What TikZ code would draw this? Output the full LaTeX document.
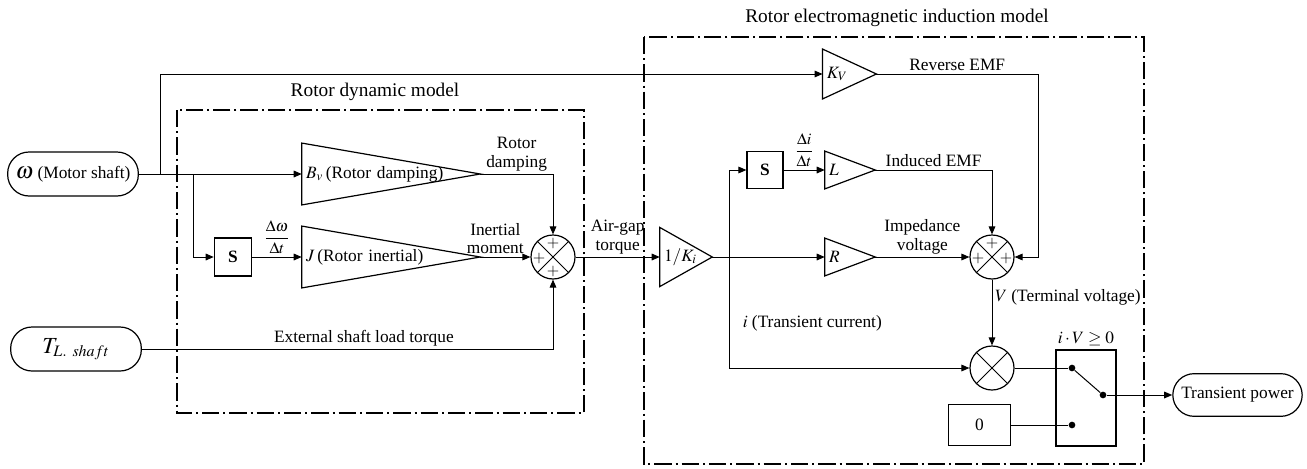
\documentclass[tikz,border=0pt]{standalone}
\usepackage{amsmath}
\usepackage{mathptmx}
\usepackage{fontspec}
\setmainfont{Liberation Serif}
\usetikzlibrary{arrows.meta}

% triangle drawn over a gain node
\newcommand{\gaintri}[1]{\draw[line width=0.9pt] (#1.north west) -- (#1.east) -- (#1.south west) -- cycle;}

\begin{document}
\begin{tikzpicture}[x=0.75pt, y=-0.75pt,
  font=\fontsize{13}{15}\selectfont,
  sig/.style={-{Triangle[length=6pt,width=5pt]}, line width=0.75pt},
  wire/.style={line width=0.75pt},
  frame/.style={line width=1.5pt, dash pattern=on 13pt off 3pt on 1.5pt off 3pt},
  port/.style={draw, line width=0.9pt, rounded corners=16pt, minimum width=98pt,
    minimum height=33pt, inner sep=0pt},
  blk/.style={draw, line width=0.9pt, inner sep=0pt, font=\fontsize{13}{15}\selectfont\bfseries},
  gain/.style={inner xsep=3pt, inner ysep=0pt, align=left, text width=#1},
  sumnode/.style={draw, circle, line width=0.9pt, minimum size=33pt, inner sep=0pt,
    path picture={\draw[line width=0.75pt]
      (path picture bounding box.north west) -- (path picture bounding box.south east)
      (path picture bounding box.north east) -- (path picture bounding box.south west);}},
  pl/.style={inner sep=0pt, font=\fontsize{12}{12}\selectfont},
  lbl/.style={align=center, inner sep=2pt, font=\fontsize{13}{14}\selectfont},
  ttl/.style={font=\fontsize{14.5}{16}\selectfont},
  dot/.style={circle, fill, inner sep=0pt, minimum size=5pt},
]
\useasboundingbox (0,0) rectangle (1307,468);

% frames
\draw[frame] (177,110) rectangle (584,413);
\draw[frame] (644,37) rectangle (1144,464);
\node[ttl] (t1) at (375,92) {Rotor dynamic model};
\node[ttl] (t2) at (897,18) {Rotor electromagnetic induction model};

% rotor dynamic model
\node[port] (om) at (73,174) {{\LARGE$\omega$} (Motor shaft)};
\node[port] (TL) at (76,349) {{\LARGE$T_{L.\ shaft}$}};
\coordinate (b1) at (160,174);
\coordinate (b2) at (193,174);
\node[blk, minimum width=28pt, minimum height=28.5pt] (S1) at (233,257) {S};
\node[gain=127.5pt, minimum height=46pt] (Bv) at (391,174) {$B_v$\,(Rotor damping)};
\node[gain=127.5pt, minimum height=46pt] (J) at (391,257) {$J$\,(Rotor inertial)};
\gaintri{Bv}
\gaintri{J}
\node[sumnode] (sum1) at (553,257) {};
\node[pl] (s1t) at ([yshift=10pt]sum1.center) {$+$};
\node[pl] (s1l) at ([xshift=-10.5pt,yshift=-1pt]sum1.center) {$+$};
\node[pl] (s1b) at ([yshift=-11pt]sum1.center) {$+$};

% electromagnetic induction model
\node[gain=34pt, minimum height=37pt] (Kv) at (849.5,74) {$K_V$};
\node[gain=33pt, minimum height=44pt] (Ki) at (686,257) {$1/K_i$};
\coordinate (b3) at (729,257);
\coordinate (re) at (1038,74);
\node[blk, minimum width=27pt, minimum height=28pt] (S2) at (765,170) {S};
\node[gain=31.5pt, minimum height=28pt] (L) at (850,170) {$L$};
\node[gain=31.5pt, minimum height=28pt] (R) at (850,257) {$R$};
\gaintri{Kv}
\gaintri{Ki}
\gaintri{L}
\gaintri{R}
\node[sumnode] (sum2) at (992,257) {};
\node[pl] (s2t) at ([yshift=10pt]sum2.center) {$+$};
\node[pl] (s2l) at ([xshift=-10.5pt,yshift=-1pt]sum2.center) {$+$};
\node[pl] (s2r) at ([xshift=10.5pt,yshift=-1pt]sum2.center) {$+$};
\node[sumnode] (mult) at (992,368) {};
\node[draw, line width=0.9pt, minimum width=46pt, minimum height=31pt] (zero) at (979.5,425) {0};
\node[draw, line width=1.2pt, minimum width=45pt, minimum height=72pt,
  label={[lbl]above:$i\cdot V\geq 0$}] (sw) at (1086,398) {};
\node[dot] (sw1) at (1072,368) {};
\node[dot] (sw2) at (1072,425) {};
\node[dot] (swo) at (1103,395) {};
\node[port, minimum width=97pt, minimum height=32pt] (tp) at (1237.5,395) {Transient power};

% signals
\draw[sig] (om.east) -- (Bv.west);
\draw[sig] (b1) |- (Kv.west);
\draw[sig] (b2) |- (S1.west);
\draw[sig] (S1.east) -- node[lbl, above] {\large$\dfrac{\Delta\omega}{\Delta t}$} (J.west);
\draw[sig] (Bv.east) -| node[lbl, above, pos=0.25] {Rotor\\damping} (sum1.north);
\draw[sig] (J.east) -- node[lbl, above, pos=0.3] {Inertial\\moment} (sum1.west);
\draw[sig] (TL.east) -| node[lbl, above, pos=0.27] {External shaft load torque} (sum1.south);
\draw[sig] (sum1.east) -- node[lbl, above] {Air-gap\\torque} (Ki.west);
\draw[sig] (Ki.east) -- (R.west);
\draw[sig] (b3) |- (S2.west);
\draw[sig] (b3) |- node[lbl, right, pos=0.3, xshift=8pt] {$i$ (Transient current)} (mult.west);
\draw[sig] (S2.east) -- node[lbl, above] {\large$\dfrac{\Delta i}{\Delta t}$} (L.west);
\draw[sig] (L.east) -| node[lbl, above, pos=0.25] {Induced EMF} (sum2.north);
\draw[sig] (R.east) -- node[lbl, above] {Impedance\\voltage} (sum2.west);
\draw[sig] (Kv.east) -- node[lbl, above] {Reverse EMF} (re) |- (sum2.east);
\draw[sig] (sum2.south) -- node[lbl, right, pos=0.27] {$V$ (Terminal voltage)} (mult.north);
\draw[wire] (mult.east) -- (sw1);
\draw[wire] (zero.east) -- (sw2);
\draw[wire] (sw1) -- (swo);
\draw[sig] (swo) -- (tp.west);

\end{tikzpicture}
\end{document}
